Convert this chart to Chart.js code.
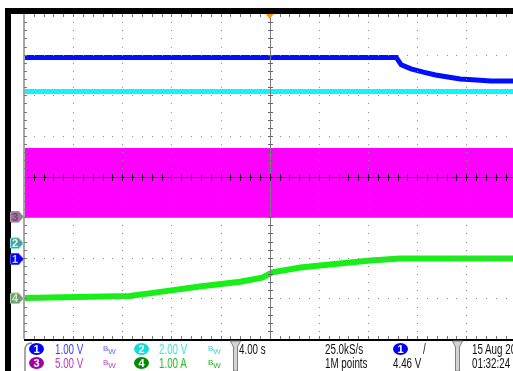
<!DOCTYPE html>
<html>
<head>
<meta charset="utf-8">
<script src="https://cdn.jsdelivr.net/npm/chart.js@4.4.0/dist/chart.umd.min.js"></script>
<style>
html, body { margin: 0; padding: 0; background: #fff; overflow: hidden; }
#wrap { position: relative; width: 513px; height: 371px; overflow: hidden; font-family: "Liberation Sans", Arial, sans-serif; }
#scope { position: absolute; left: 0; top: 0; }
.t { position: absolute; white-space: nowrap; font-size: 14px; line-height: 12px; transform: scaleX(0.7); transform-origin: 0 0; color: #111; }
.badge { position: absolute; width: 15px; height: 12px; border-radius: 50%; color: #fff; text-align: center; line-height: 12px; font-size: 11px; font-weight: bold; }
.bw { position: absolute; font-size: 8px; line-height: 8px; }
.bw sub { font-size: 8px; vertical-align: -3px; }
.gnd { position: absolute; left: 10px; width: 14px; height: 12px; background: var(--edge);
       clip-path: polygon(0 12%, 10% 0, 62% 0, 100% 50%, 62% 100%, 10% 100%, 0 88%); }
.gnd i { position: absolute; left: 1px; top: 1px; width: 12px; height: 10px; background: var(--fill);
       clip-path: polygon(0 12%, 10% 0, 62% 0, 100% 50%, 62% 100%, 10% 100%, 0 88%); }
.gnd b { position: absolute; left: 0; top: 0; width: 10px; line-height: 12px; text-align: center; font-size: 11px; }
</style>
</head>
<body>
<div id="wrap">
  <canvas id="scope" width="513" height="371"></canvas>

  <!-- marcatori di massa dei canali (posizionati dal plugin) -->
  <div class="gnd" id="gnd3" style="--edge:#b090b0;--fill:#9a789a;color:#6a4a6a"><i></i><b>3</b></div>
  <div class="gnd" id="gnd2" style="--edge:#70f0f0;--fill:#5a9a9a;color:#d0ffff"><i></i><b>2</b></div>
  <div class="gnd" id="gnd1" style="--edge:#4848ff;--fill:#0000f0;color:#c8c8ff"><i></i><b>1</b></div>
  <div class="gnd" id="gnd4" style="--edge:#98e098;--fill:#789878;color:#c8e8c8"><i></i><b>4</b></div>

  <!-- pannello informazioni -->
  <div class="badge" style="left:29px;top:343px;background:#0000ff">1</div>
  <div class="t" style="left:55px;top:343px;color:#4040ff">1.00 V</div>
  <div class="bw" style="left:103px;top:345px;color:#6060ff">B<sub>W</sub></div>
  <div class="badge" style="left:29px;top:357px;background:#a000a0">3</div>
  <div class="t" style="left:55px;top:357px;color:#c040c0">5.00 V</div>
  <div class="bw" style="left:103px;top:359px;color:#c040c0">B<sub>W</sub></div>

  <div class="badge" style="left:134px;top:343px;background:#10dede">2</div>
  <div class="t" style="left:159px;top:343px;color:#40e4e4">2.00 V</div>
  <div class="bw" style="left:208px;top:345px;color:#40d0d0">B<sub>W</sub></div>
  <div class="badge" style="left:134px;top:357px;background:#008c00">4</div>
  <div class="t" style="left:159px;top:357px;color:#20c020">1.00 A</div>
  <div class="bw" style="left:208px;top:359px;color:#20b020">B<sub>W</sub></div>

  <div class="t" style="left:239px;top:343px">4.00 s</div>
  <div class="t" style="left:325px;top:343px">25.0kS/s</div>
  <div class="t" style="left:325px;top:357px">1M points</div>

  <div class="badge" style="left:393px;top:343px;background:#0000ff">1</div>
  <div class="t" style="left:423px;top:343px">/</div>
  <div class="t" style="left:393px;top:357px">4.46 V</div>

  <div class="t" style="left:472px;top:343px">15 Aug 2013</div>
  <div class="t" style="left:472px;top:357px">01:32:24</div>
</div>

<script>
// Schermata oscilloscopio: 4.00 s/div, valori verticali in divisioni dal centro
const TIME_MIN = -20;   // s, bordo sinistro del reticolo
const TIME_MAX = 19.8;  // s, bordo destro (schermata tagliata)
const DIV_MIN = -4;
const DIV_MAX = 4;

// CH1 (blu)
const ch1Times = [-20, 10.3, 10.7, 11.5, 12.5, 13.5, 14.5, 15.5, 16.5, 18, 19.8];
const ch1Div   = [2.93, 2.93, 2.75, 2.65, 2.57, 2.50, 2.45, 2.40, 2.38, 2.35, 2.35];
// CH2 (ciano)
const ch2Times = [-20, 19.8];
const ch2Div   = [2.09, 2.09];
// CH3 (magenta) - inviluppo della commutazione
const ch3Times = [-20, 19.8];
const ch3High  = [0.68, 0.68];
const ch3Low   = [-0.99, -0.99];
// CH4 (verde, corrente)
const ch4Times = [-20, -11.4, -8.9, -5.7, -2.4, -0.6, 0.2, 2.5, 5.7, 8.2, 10.6, 19.8];
const ch4Div   = [-2.99, -2.94, -2.84, -2.71, -2.59, -2.49, -2.36, -2.24, -2.14, -2.07, -2.02, -2.02];
// livelli di massa (marcatori a sinistra), ch1..ch4
const groundLevels = [-2.03, -1.64, -0.99, -3.0];

function pts(times, vals) {
    return times.map((t, i) => ({ x: t, y: vals[i] }));
}

//=========================================================
// CORNICE, RETICOLO E PANNELLO
//=========================================================
const scopeFrame = {
    id: "scopeFrame",
    beforeDraw(chart) {
        const ctx = chart.ctx;
        ctx.save();
        ctx.fillStyle = "#000";
        ctx.fillRect(5, 8, 508, 6);     // barra superiore
        ctx.fillRect(5, 8, 6, 363);     // barra sinistra
        ctx.restore();
    },
    afterDatasetsDraw(chart) {
        const { ctx, chartArea: a, scales: { x, y } } = chart;
        const cx = x.getPixelForValue(0);
        const cy = y.getPixelForValue(0);
        const dx = x.getPixelForValue(4) - cx;   // px per divisione
        const dy = cy - y.getPixelForValue(1);
        ctx.save();

        // linee tratteggiate del reticolo
        ctx.fillStyle = "#8c8c8c";
        for (let i = -4; i <= 5; i++) {
            if (i === 0) continue;
            const px = Math.round(cx + i * dx);
            if (px >= a.right) continue;
            for (let k = 1; k < 40; k++) ctx.fillRect(px, Math.round(a.top + k * dy / 5), 1, 1);
        }
        for (let j = -3; j <= 3; j++) {
            if (j === 0) continue;
            const py = Math.round(cy - j * dy);
            for (let k = 1; k < 50; k++) {
                const px = Math.round(a.left + k * dx / 5);
                if (px >= a.right) break;
                ctx.fillRect(px, py, 1, 1);
            }
        }

        // asse verticale centrale
        ctx.fillStyle = "#7a7a7a";
        ctx.fillRect(Math.round(cx), a.top, 1, a.bottom - a.top);
        ctx.fillStyle = "#666";
        for (let k = 1; k < 40; k++) ctx.fillRect(Math.round(cx) - 2, Math.round(a.top + k * dy / 5), 5, 1);

        // asse orizzontale centrale
        ctx.fillStyle = "#222";
        ctx.fillRect(a.left, Math.round(cy), a.right - a.left, 1);
        for (let k = 1; k < 50; k++) {
            const px = Math.round(a.left + k * dx / 5);
            if (px >= a.right) break;
            ctx.fillRect(px, Math.round(cy) - 3, 1, 7);
        }

        // bordo sinistro con tacche
        ctx.fillStyle = "#a8a8a8";
        ctx.fillRect(a.left - 1, a.top, 2, a.bottom - a.top);
        ctx.fillStyle = "#777";
        for (let k = 1; k < 40; k++) ctx.fillRect(a.left, Math.round(a.top + k * dy / 5), 3, 1);
        // tacche in alto e in basso
        for (let k = 1; k < 50; k++) {
            const px = Math.round(a.left + k * dx / 5);
            if (px >= a.right) break;
            ctx.fillRect(px, a.top, 1, 3);
            ctx.fillRect(px, a.bottom - 3, 1, 3);
        }
        ctx.restore();
    },
    afterDraw(chart) {
        const { ctx, chartArea: a, scales: { x, y } } = chart;
        ctx.save();
        // linea nera sopra il pannello
        ctx.fillStyle = "#000";
        ctx.fillRect(a.left, a.bottom, 513 - a.left, 2);

        // marcatore trigger arancione
        const tx = x.getPixelForValue(0);
        ctx.fillStyle = "#ff9c00";
        ctx.beginPath();
        ctx.moveTo(tx - 4, a.top);
        ctx.lineTo(tx + 4, a.top);
        ctx.lineTo(tx, a.top + 5);
        ctx.closePath();
        ctx.fill();

        // bordo arrotondato del pannello
        ctx.strokeStyle = "#8c8c8c";
        ctx.lineWidth = 1.5;
        ctx.beginPath();
        ctx.moveTo(25, 371);
        ctx.lineTo(25, 350);
        ctx.quadraticCurveTo(25, 343, 32, 343);
        ctx.stroke();

        // separatori
        [235.5, 457.5].forEach(function (sx) {
            ctx.beginPath();
            ctx.moveTo(sx - 5, a.bottom + 2);
            ctx.lineTo(sx + 5, a.bottom + 2);
            ctx.lineTo(sx + 2, a.bottom + 8);
            ctx.lineTo(sx + 2, 371);
            ctx.lineTo(sx - 2, 371);
            ctx.lineTo(sx - 2, a.bottom + 8);
            ctx.closePath();
            ctx.fillStyle = "#d4d4d4";
            ctx.fill();
            ctx.lineWidth = 1;
            ctx.strokeStyle = "#808080";
            ctx.stroke();
        });
        ctx.restore();

        // posiziona i marcatori di massa
        ["gnd1", "gnd2", "gnd3", "gnd4"].forEach(function (id, i) {
            const el = document.getElementById(id);
            el.style.top = (y.getPixelForValue(groundLevels[i]) - 6) + "px";
        });
    }
};

window.addEventListener("load", function () {
    new Chart(document.getElementById("scope"), {
        type: "line",
        data: {
            datasets: [
                { label: "CH3 alto", data: pts(ch3Times, ch3High), borderColor: "#ff00ff", backgroundColor: "#ff00ff", borderWidth: 2, fill: "+1" },
                { label: "CH3 basso", data: pts(ch3Times, ch3Low), borderColor: "#ff00ff", borderWidth: 2, fill: false },
                { label: "CH1", data: pts(ch1Times, ch1Div), borderColor: "#0010ff", borderWidth: 5, fill: false },
                { label: "CH2", data: pts(ch2Times, ch2Div), borderColor: "#10f4ff", borderWidth: 5, fill: false },
                { label: "CH4", data: pts(ch4Times, ch4Div), borderColor: "#18ee18", borderWidth: 6, fill: false }
            ]
        },
        options: {
            responsive: false,
            animation: false,
            events: [],
            layout: { padding: { left: 24, top: 14, right: 0, bottom: 32 } },
            scales: {
                x: { type: "linear", min: TIME_MIN, max: TIME_MAX, display: false },
                y: { min: DIV_MIN, max: DIV_MAX, display: false }
            },
            elements: { point: { radius: 0 }, line: { tension: 0 } },
            plugins: { legend: { display: false }, tooltip: { enabled: false } }
        },
        plugins: [scopeFrame]
    });
});
</script>
</body>
</html>
